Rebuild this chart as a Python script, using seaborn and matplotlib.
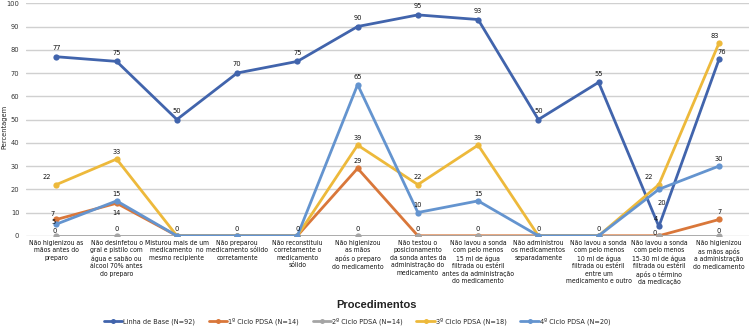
import matplotlib
matplotlib.use("Agg")
import matplotlib.pyplot as plt
import seaborn as sns
import pandas as pd
from matplotlib import font_manager
from matplotlib.font_manager import FontProperties

categories = [
    "Não higienizou as\nmãos antes do\npreparo",
    "Não desinfetou o\ngral e pistilo com\nágua e sabão ou\nálcool 70% antes\ndo preparo",
    "Misturou mais de um\nmedicamento  no\nmesmo recipiente",
    "Não preparou\nmedicamento sólido\ncorretamente",
    "Não reconstituiu\ncorretamente o\nmedicamento\nsólido",
    "Não higienizou\nas mãos\napós o preparo\ndo medicamento",
    "Não testou o\nposicionamento\nda sonda antes da\nadministração do\nmedicamento",
    "Não lavou a sonda\ncom pelo menos\n15 ml de água\nfiltrada ou estéril\nantes da administração\ndo medicamento",
    "Não administrou\nos medicamentos\nseparadamente",
    "Não lavou a sonda\ncom pelo menos\n10 ml de água\nfiltrada ou estéril\nentre um\nmedicamento e outro",
    "Não lavou a sonda\ncom pelo menos\n15-30 ml de água\nfiltrada ou estéril\napós o término\nda medicação",
    "Não higienizou\nas mãos após\na administração\ndo medicamento",
]

series_names = ["Linha de Base (N=92)", "1º Ciclo PDSA (N=14)", "2º Ciclo PDSA (N=14)",
                "3º Ciclo PDSA (N=18)", "4º Ciclo PDSA (N=20)"]

baseline = [77, 75, 50, 70, 75, 90, 95, 93, 50, 66, 4, 76]
baseline_labels = ["77", "75", "50", "70", "75", "90", "95", "93", "50", "55", "4", "76"]
ciclo1 = [7, 14, 0, 0, 0, 29, 0, 0, 0, 0, 0, 7]
ciclo2 = [0, 0, 0, 0, 0, 0, 0, 0, 0, 0, 0, 0]
ciclo3 = [22, 33, 0, 0, 0, 39, 22, 39, 0, 0, 22, 83]
ciclo4 = [5, 15, 0, 0, 0, 65, 10, 15, 0, 0, 20, 30]

yticks = [0, 10, 20, 30, 40, 50, 60, 70, 80, 90, 100]

colors = ["#4164AC", "#D9773A", "#A5A5A5", "#EDB93B", "#6494CF"]

sns.set_theme(style="white")

# look for a condensed / narrow sans font
cond = None
for f in font_manager.fontManager.ttflist:
    nm = f.name + " " + str(f.fname)
    is_cond = ("Narrow" in nm or "Condensed" in nm or
               str(f.stretch) in ("condensed", "semi-condensed", "extra-condensed", "ultra-condensed"))
    if is_cond and f.style == "normal" and f.weight in (400, "normal", "regular", "book"):
        if "Mono" in nm or "Serif" in nm:
            continue
        cond = f.fname
        if "Narrow" in nm or "DejaVu" in nm:
            break

plt.rcParams["font.family"] = ["Liberation Sans", "DejaVu Sans"]

if cond:
    tick_fp = FontProperties(fname=cond, size=4.9)
    lab_fp = FontProperties(fname=cond, size=5.3)
    leg_fp = FontProperties(fname=cond, size=5.2)
else:
    tick_fp = FontProperties(family=["Roboto", "DejaVu Sans"], size=4.4)
    lab_fp = FontProperties(family=["Roboto", "DejaVu Sans"], size=4.9)
    leg_fp = FontProperties(family=["Roboto", "DejaVu Sans"], size=4.8)

all_vals = [baseline, ciclo1, ciclo2, ciclo3, ciclo4]
rows = []
for name, vals in zip(series_names, all_vals):
    for i, v in enumerate(vals):
        rows.append({"pos": i, "val": v, "serie": name})
df = pd.DataFrame(rows)

fig = plt.figure(figsize=(7.5, 3.27), dpi=100)
ax = fig.add_axes([0.035, 0.279, 0.964, 0.711])

sns.lineplot(data=df, x="pos", y="val", hue="serie", hue_order=series_names,
             palette=colors, marker="o", markersize=4.5, markeredgewidth=0,
             linewidth=2.0, sort=False, ax=ax, legend=True)

ax.set_xlim(-0.5, len(categories) - 0.5)
ax.set_ylim(0, 100)
ax.set_yticks(yticks)
ax.set_yticklabels([str(t) for t in yticks], color="#333333")
for t in ax.get_yticklabels():
    t.set_fontproperties(lab_fp)
ax.set_xticks(range(len(categories)))
ax.set_xticklabels(categories, linespacing=1.3, color="#111111", va="top")
for t in ax.get_xticklabels():
    t.set_fontproperties(tick_fp)
ax.tick_params(axis="both", length=0)
ax.tick_params(axis="x", pad=3)
ax.tick_params(axis="y", pad=5)
ax.yaxis.grid(True, color="#D0D0D0", linewidth=1.0)
ax.set_axisbelow(True)
for s in ax.spines.values():
    s.set_visible(False)
ax.set_ylabel("Percentagem", fontproperties=lab_fp, color="#222222")
ax.yaxis.set_label_coords(-0.026, 0.47)
ax.set_xlabel("Procedimentos", fontsize=8, fontweight="bold", color="#222222")
ax.xaxis.set_label_coords(0.484, -0.275)

def ann(x, y, text, dx=0, dy=6, va="bottom"):
    ax.annotate(text, (x, y), xytext=(dx, dy), textcoords="offset points",
                ha="center", va=va, fontproperties=lab_fp, color="#111111")

# baseline labels
for i, (v, t) in enumerate(zip(baseline, baseline_labels)):
    dx, dy = 0, 4
    if i == 10:
        dx, dy = -2, 3
    if i == 11:
        dx, dy = 2, 3
    ann(i, v, t, dx, dy)

# 1st cycle
ann(0, ciclo1[0], str(ciclo1[0]), -3, 3.8, va="center")
ann(1, ciclo1[1], str(ciclo1[1]), 0, -9)
ann(5, ciclo1[5], str(ciclo1[5]), 0, 3)
ann(11, ciclo1[11], str(ciclo1[11]), 0, 3)

# 2nd cycle zeros
for i, v in enumerate(ciclo2):
    if i == 0:
        ann(i, v, str(v), -1, 3.3, va="center")
    elif i == 10:
        ann(i, v, str(v), -3, 0)
    elif i == 11:
        ann(i, v, str(v), 0, 1)
    else:
        ann(i, v, str(v), 0, 3)

# 3rd cycle
c3_off = {0: (-7, 3), 1: (0, 3), 5: (0, 3), 6: (0, 3), 7: (0, 3), 10: (-7, 3), 11: (-3, 3)}
for i, (dx, dy) in c3_off.items():
    ann(i, ciclo3[i], str(ciclo3[i]), dx, dy)

# 4th cycle
ann(0, ciclo4[0], str(ciclo4[0]), -2, 1.2, va="center")
c4_off = {1: (0, 3), 5: (0, 3), 6: (0, 3), 7: (0, 3), 10: (2, -12), 11: (0, 3)}
for i, (dx, dy) in c4_off.items():
    ann(i, ciclo4[i], str(ciclo4[i]), dx, dy)

handles, labels = ax.get_legend_handles_labels()
ax.get_legend().remove()
for h in handles:
    h.set_linewidth(2.0)
fig.legend(handles, labels, loc="center", bbox_to_anchor=(0.476, 0.018), ncol=5,
           frameon=False, prop=leg_fp, handlelength=2.6, handletextpad=0.1,
           columnspacing=1.9, markerscale=0.8)

fig.savefig("out.png", dpi=100)
